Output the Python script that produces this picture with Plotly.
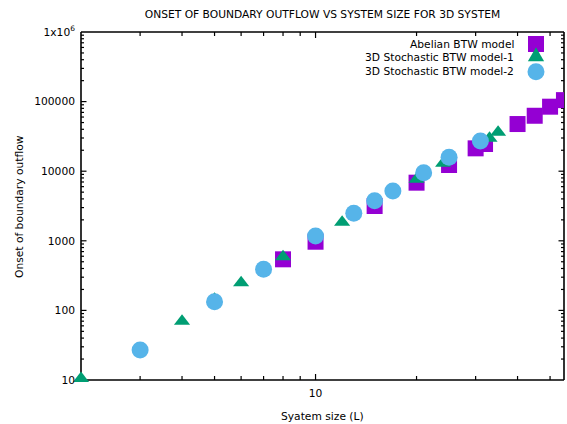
import math
import plotly.graph_objects as go

# ---- data ----
abelian_L = [8, 10, 15, 20, 25, 30, 32, 40, 45, 50, 55]
abelian_v = [542, 970, 3160, 6840, 12270, 21300, 24600, 47600, 62600, 84500, 105000]

model1_L = [2, 4, 5, 6, 8, 12, 20, 24, 33, 35]
model1_v = [10.5, 70, 145, 250, 590, 1840, 7650, 13000, 29800, 36300]

model2_L = [3, 5, 7, 10, 13, 15, 17, 21, 25, 31]
model2_v = [27, 133, 389, 1172, 2484, 3767, 5200, 9510, 15850, 27200]

series_names = ["Abelian BTW model", "3D Stochastic BTW model-1", "3D Stochastic BTW model-2"]
colors = ["#9400D3", "#009E73", "#56B4E9"]
symbols = ["square", "triangle-up", "circle"]
sizes = [16, 14, 17]

y_major = [10, 100, 1000, 10000, 100000, 1000000]
y_major_text = ["10", "100", "1000", "10000", "100000", "1x10<sup>6</sup>"]
x_major = [10]
x_major_text = ["10"]
x_minor = [3, 4, 5, 6, 7, 8, 9, 20, 30, 40, 50]
y_minor = [m * 10 ** e for e in range(1, 6) for m in range(2, 10)]

X_RANGE = [0.30095, 1.7405]   # log10 axis range
Y_RANGE = [1, 6]

FONT = dict(family="DejaVu Sans", size=10.7, color="black")

fig = go.Figure()
data = [(abelian_L, abelian_v), (model1_L, model1_v), (model2_L, model2_v)]
for i, (xs, ys) in enumerate(data):
    fig.add_trace(go.Scatter(
        x=xs, y=ys, mode="markers", name=series_names[i], showlegend=False,
        marker=dict(symbol=symbols[i], size=sizes[i], color=colors[i], line=dict(width=0)),
        cliponaxis=(i == 0),
    ))

# ---- custom key (text right-aligned, sample to the right, like gnuplot) ----
key_x = 0.942
key_y = [0.9655, 0.926, 0.886]
key_paths = [
    "M-8,-8 L8,-8 L8,8 L-8,8 Z",
    "M-8.1,-3.5 L8.1,-3.5 L0,10.5 Z",
    None,
]
for i in range(3):
    common = dict(xref="paper", yref="paper", xsizemode="pixel", ysizemode="pixel",
                  xanchor=key_x, yanchor=key_y[i], fillcolor=colors[i],
                  line=dict(width=0), layer="above")
    if key_paths[i] is None:
        fig.add_shape(type="circle", x0=-8.5, x1=8.5, y0=-8.5, y1=8.5, **common)
    else:
        fig.add_shape(type="path", path=key_paths[i], **common)
    fig.add_annotation(text=series_names[i], xref="paper", yref="paper",
                       x=0.9006, y=key_y[i], xanchor="right", yanchor="middle",
                       showarrow=False, font=FONT)

# ---- frame and tick marks drawn as filled bars (robust rendering) ----
BLACK = "#000000"
FW = 0.8   # half frame width, px
TW = 0.6   # half tick width, px


def bar(**kw):
    fig.add_shape(type="rect", xref="paper", yref="paper", fillcolor=BLACK,
                  line=dict(width=0), layer="below", **kw)


# frame
bar(x0=0, x1=1, ysizemode="pixel", yanchor=0, y0=-FW, y1=FW)
bar(x0=0, x1=1, ysizemode="pixel", yanchor=1, y0=-FW, y1=FW)
bar(y0=0, y1=1, xsizemode="pixel", xanchor=0, x0=-FW, x1=FW)
bar(y0=0, y1=1, xsizemode="pixel", xanchor=1, x0=-FW, x1=FW)


def xfrac(v):
    return (math.log10(v) - X_RANGE[0]) / (X_RANGE[1] - X_RANGE[0])


def yfrac(v):
    return (math.log10(v) - Y_RANGE[0]) / (Y_RANGE[1] - Y_RANGE[0])


for vals, ln in ((x_major, 6), (x_minor, 4)):
    for v in vals:
        f = xfrac(v)
        bar(xsizemode="pixel", xanchor=f, x0=-TW, x1=TW, ysizemode="pixel", yanchor=0, y0=0, y1=ln)
        bar(xsizemode="pixel", xanchor=f, x0=-TW, x1=TW, ysizemode="pixel", yanchor=1, y0=-ln, y1=0)
for vals, ln in ((y_major, 5.5), (y_minor, 3)):
    for v in vals:
        f = yfrac(v)
        if f <= 0 or f >= 1:
            continue
        bar(ysizemode="pixel", yanchor=f, y0=-TW, y1=TW, xsizemode="pixel", xanchor=0, x0=0, x1=ln)
        bar(ysizemode="pixel", yanchor=f, y0=-TW, y1=TW, xsizemode="pixel", xanchor=1, x0=-ln, x1=0)

AX = dict(showgrid=False, zeroline=False, showline=False, ticks="",
          tickfont=FONT, tickmode="array")

fig.update_layout(
    width=567, height=424,
    margin=dict(l=81, r=3, t=32, b=44),
    paper_bgcolor="white", plot_bgcolor="white",
    font=FONT,
    title=dict(text="ONSET OF BOUNDARY OUTFLOW VS SYSTEM SIZE FOR 3D SYSTEM",
               x=0.5, xref="paper", y=1 - 14 / 424, yref="container",
               xanchor="center", yanchor="middle", font=FONT),
    xaxis=dict(type="log", range=X_RANGE, tickvals=x_major, ticktext=x_major_text,
               ticklabelstandoff=5, **AX),
    yaxis=dict(type="log", range=Y_RANGE, tickvals=y_major, ticktext=y_major_text,
               ticklabelstandoff=5, **AX),
    showlegend=False,
)

fig.add_annotation(text="Syatem size (L)", xref="paper", yref="paper",
                   x=0.5, y=(380 - 416) / 348, xanchor="center", yanchor="middle",
                   showarrow=False, font=FONT)
fig.add_annotation(text="Onset of boundary outflow", xref="paper", yref="paper",
                   x=(19 - 81) / 483, y=0.5, xanchor="center", yanchor="middle",
                   textangle=-90, showarrow=False, font=FONT)

fig.write_html("out.html", config={"displayModeBar": False},
               post_script="document.body.style.margin='0';document.body.style.overflow='hidden';")
